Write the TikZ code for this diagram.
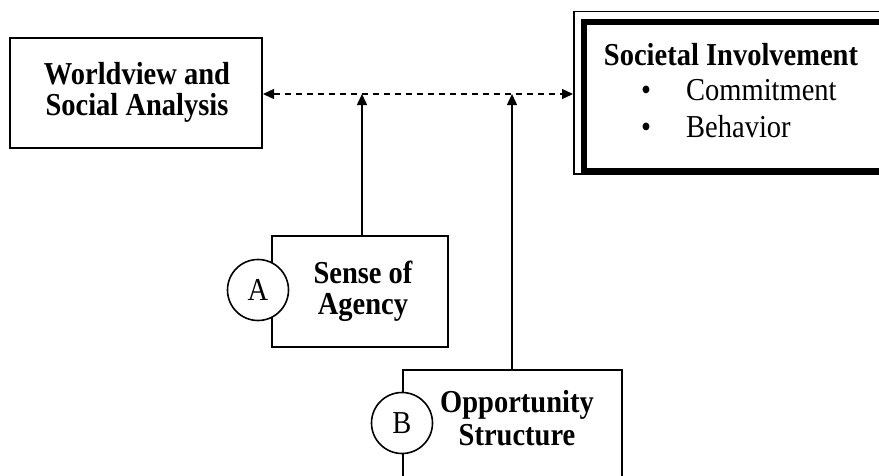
\documentclass[tikz,border=0pt]{standalone}
\usepackage{fontspec}
\setmainfont{Liberation Serif}
\usetikzlibrary{arrows.meta}
\newcommand\talltext[1]{\scalebox{1}[1.12]{#1}}
\tikzset{
  box/.style={draw, line width=2pt, fill=white, inner sep=0pt},
  lbl/.style={anchor=base, inner sep=0pt, font=\fontsize{28.5}{30}\selectfont\bfseries},
  itm/.style={anchor=base west, inner sep=0pt, font=\fontsize{28.5}{30}\selectfont},
  circ/.style={draw, circle, line width=1.6pt, fill=white, minimum size=61pt, inner sep=0pt, font=\fontsize{28.5}{30}\selectfont},
  tip/.style={-{Triangle[length=11pt,width=10pt]}},
  dtip/.style={{Triangle[length=11pt,width=10pt]}-{Triangle[length=11pt,width=10pt]}},
}
\begin{document}
\begin{tikzpicture}[x=1pt,y=-1pt]
\clip (0,0) rectangle (879,475);
\fill[white] (0,0) rectangle (879,475);
% Worldview box
\node[box, minimum width=252pt, minimum height=110pt] (wv) at (136,93) {};
\node[lbl] (wv1) at (137,84) {\talltext{Worldview and}};
\node[lbl] (wv2) at (137,115) {\talltext{Social Analysis}};
% Societal involvement box (double frame, extends past right edge)
\draw[line width=1.4pt] (574,11.7) rectangle (920,174);
\node[draw, line width=6.5pt, inner sep=0pt, minimum width=340pt, minimum height=149pt, anchor=north west] (soc) at (580.5,18.7) {};
\coordinate (socin) at (573,94);
\node[lbl] (soc1) at (731,65) {\talltext{Societal Involvement}};
\node[itm] (b1) at (641,100) {\talltext{\textbullet}};
\node[itm] (c1) at (686,100) {\talltext{Commitment}};
\node[itm] (b2) at (641,137) {\talltext{\textbullet}};
\node[itm] (c2) at (686,137) {\talltext{Behavior}};
% Sense of Agency
\node[box, minimum width=176pt, minimum height=111pt] (sa) at (360,291.5) {};
\node[lbl] (sa1) at (363,283) {\talltext{Sense of}};
\node[lbl] (sa2) at (363,314) {\talltext{Agency}};
\node[circ] (ca) at (258,290) {\talltext{A}};
% Opportunity Structure
\node[box, minimum width=219pt, minimum height=160pt, anchor=north west] (os) at (402,369) {};
\node[lbl] (os1) at (517,412) {\talltext{Opportunity}};
\node[lbl] (os2) at (517,445) {\talltext{Structure}};
\node[circ] (cb) at (402,423) {\talltext{B}};
% Connectors
\draw[dtip, dashed, dash pattern=on 6pt off 5pt, line width=1.3pt] (wv.east |- 0,94) -- (socin);
\coordinate (ta) at (362,94);
\coordinate (tb) at (512,94);
\draw[tip, line width=1.5pt] (sa.north -| ta) -- (ta);
\draw[tip, line width=1.5pt] (os.north -| tb) -- (tb);
\end{tikzpicture}
\end{document}
